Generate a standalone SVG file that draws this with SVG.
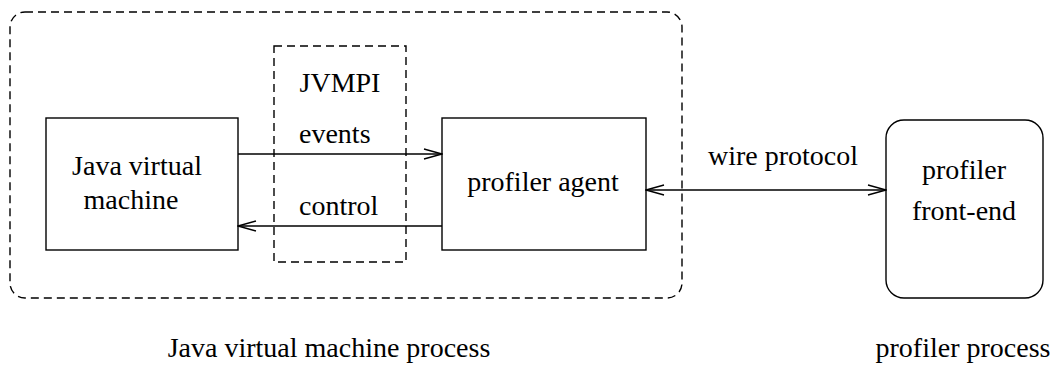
<svg xmlns="http://www.w3.org/2000/svg" width="1055" height="366" viewBox="0 0 1055 366">
<defs>
<style>
.box{fill:none;stroke:#000;stroke-width:1.4}
.dash{fill:none;stroke:#000;stroke-width:1.4;stroke-dasharray:8 5}
.conn{fill:none;stroke:#000;stroke-width:1.4}
.c{text-anchor:middle}
</style>
<marker id="arr" viewBox="0 0 20 12" refX="19" refY="6" markerWidth="20" markerHeight="12" markerUnits="userSpaceOnUse" orient="auto-start-reverse">
<path d="M1,1 L19,6 L1,11" fill="none" stroke="#000" stroke-width="1.3"/>
</marker>
</defs>
<rect id="bg" width="1055" height="366" fill="#fff"/>
<g font-family="'Liberation Serif', 'Times New Roman', 'DejaVu Serif', serif" font-size="28" fill="#000">
<g id="jvm-process">
<rect class="dash" x="10" y="12" width="672" height="286" rx="15"/>
<text class="c" x="329" y="357">Java virtual machine process</text>
</g>
<g id="jvmpi">
<rect class="dash" x="274" y="46" width="132" height="216"/>
<text class="c" x="340" y="92">JVMPI</text>
</g>
<g id="jvm">
<rect class="box" x="46" y="118" width="192" height="132"/>
<text class="c" x="137" y="175">Java virtual</text>
<text class="c" x="131" y="209">machine</text>
</g>
<g id="agent">
<rect class="box" x="442" y="118" width="204" height="132"/>
<text class="c" x="543" y="191">profiler agent</text>
</g>
<g id="frontend">
<rect class="box" x="886" y="120" width="157" height="178" rx="18"/>
<text class="c" x="964" y="179">profiler</text>
<text class="c" x="964" y="220">front-end</text>
</g>
<g id="profiler-process">
<text class="c" x="963" y="357">profiler process</text>
</g>
<g id="connectors">
<line class="conn" x1="238" y1="154" x2="442" y2="154" marker-end="url(#arr)"/>
<text x="299" y="143">events</text>
<line class="conn" x1="442" y1="226" x2="238" y2="226" marker-end="url(#arr)"/>
<text x="299" y="215">control</text>
<line class="conn" x1="646" y1="190" x2="886" y2="190" marker-start="url(#arr)" marker-end="url(#arr)"/>
<text class="c" x="783" y="165">wire protocol</text>
</g>
</g>
</svg>
